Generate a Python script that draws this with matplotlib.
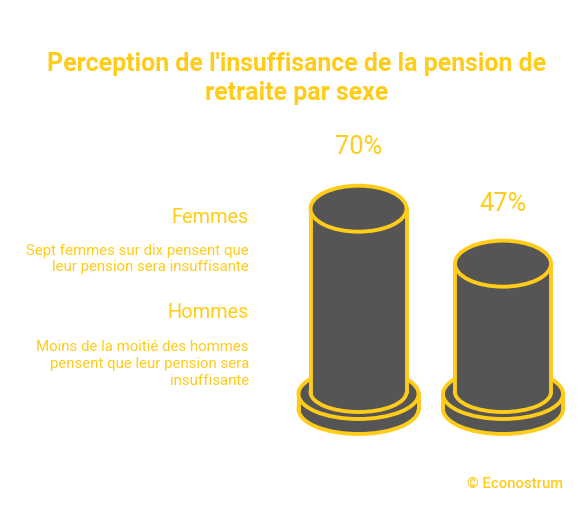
import matplotlib
matplotlib.use('Agg')
import matplotlib.pyplot as plt
from matplotlib.patches import Ellipse, Rectangle

plt.rcParams['font.family'] = ['Roboto', 'DejaVu Sans']

YELLOW = '#FFCC1A'
GREY = '#555555'

title = "Perception de l'insuffisance de la pension de\nretraite par sexe"
categories = ['Femmes', 'Hommes']
values = [70, 47]
value_labels = ['70%', '47%']
descriptions = ['Sept femmes sur dix pensent que\nleur pension sera insuffisante',
                'Moins de la moitié des hommes\npensent que leur pension sera\ninsuffisante']
source = '© Econostrum'

centers = [358.5, 503]
base_y = 393
lw = 2.8

def valueToY(v):
    # pixel height of a cylinder for a percentage
    return base_y - 16 - 2.39*v

def ellipse(ax, x, y, w, h, z):
    ax.add_patch(Ellipse((x, y), w, h, fc=GREY, ec=YELLOW, lw=lw, zorder=z))

def drawCylinder(ax, x, v):
    top = valueToY(v)
    # stacked disks under the column
    ellipse(ax, x, base_y + 17, 120, 50, 1)
    ax.add_patch(Rectangle((x-60, base_y+2), 120, 15, fc=GREY, ec='none', zorder=1.1))
    ax.plot([x-60, x-60], [base_y+2, base_y+17], color=YELLOW, lw=lw, zorder=1.2)
    ax.plot([x+60, x+60], [base_y+2, base_y+17], color=YELLOW, lw=lw, zorder=1.2)
    ellipse(ax, x, base_y + 2, 120, 50, 2)
    # column
    ellipse(ax, x, base_y, 96, 40, 3)
    ax.add_patch(Rectangle((x-48, top), 96, base_y-top, fc=GREY, ec='none', zorder=3.1))
    ax.plot([x-48, x-48], [top, base_y], color=YELLOW, lw=lw, zorder=3.2)
    ax.plot([x+48, x+48], [top, base_y], color=YELLOW, lw=lw, zorder=3.2)
    ellipse(ax, x, top, 96, 46, 4)

fig = plt.figure(figsize=(5.87, 5.10), dpi=100)
ax = fig.add_axes([0, 0, 1, 1])
ax.set_xlim(0, 587)
ax.set_ylim(510, 0)
ax.axis('off')

for x, v in zip(centers, values):
    drawCylinder(ax, x, v)

ax.text(297, 78.5, title, color=YELLOW, fontsize=17.95, fontweight='bold', ha='center', va='center', linespacing=1.22)

label_y = [147, 204]
for x, y, lab in zip(centers, label_y, value_labels):
    ax.text(x, y, lab, color=YELLOW, fontsize=18.4, ha='center', va='center')

head_y = [218, 313]
desc_y = [259, 364]
for name, desc, hy, dy in zip(categories, descriptions, head_y, desc_y):
    ax.text(249, hy, name, color=YELLOW, fontsize=14.4, ha='right', va='center')
    ax.text(249, dy, desc, color=YELLOW, fontsize=10.8, ha='right', va='center', linespacing=1.26)

ax.text(563, 484.5, source, color=YELLOW, fontsize=10.75, fontweight='medium', ha='right', va='center')

fig.savefig('out.png', dpi=100, facecolor='white')
